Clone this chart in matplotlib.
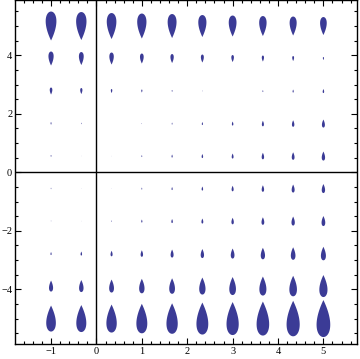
import numpy as np
import matplotlib
matplotlib.use("Agg")
import matplotlib.pyplot as plt
from matplotlib.path import Path
from matplotlib.ticker import MultipleLocator

# grid of sample points
x_vals = [-1, -1/3, 1/3, 1, 5/3, 7/3, 3, 11/3, 13/3, 5]
y_vals = [5, 35/9, 25/9, 15/9, 5/9, -5/9, -15/9, -25/9, -35/9, -5]

# signed vertical component (positive = pointing up), rows top to bottom
row_y5 = [-29, -28, -26, -25, -24, -22, -21, -20, -19, -18]
row_y4 = [-14, -13, -12, -10, -9, -8, -7, -6, -5, -3]
row_y3 = [-7, -6, -4, -3, -2, -1, 0, 2, 3, 4]
row_y2 = [-2.5, -1.5, 0, 1, 2, 3, 4, 5.5, 6.5, 8]
row_y1 = [-2, -0.5, 0.5, 2, 3, 4, 5, 6.5, 7.5, 9]
row_m1 = [-1.5, -0.5, 0.5, 2, 3, 4, 5.5, 6.5, 8, 9]
row_m2 = [-1, 0.5, 1.5, 3, 4, 5, 6.5, 7.5, 9, 10]
row_m3 = [3, 4, 5.5, 6.5, 8, 9, 10, 11.5, 12.5, 13.5]
row_m4 = [11, 12, 13, 14.5, 15.5, 17, 18, 19, 20.5, 22]
row_m5 = [26, 27, 28, 29.5, 30.5, 32, 33, 34, 35.5, 37]
rows = [row_y5, row_y4, row_y3, row_y2, row_y1, row_m1, row_m2, row_m3, row_m4, row_m5]

x_ticks = [-1, 0, 1, 2, 3, 4, 5]
y_ticks = [-4, -2, 0, 2, 4]


def drop_path(up=True, w=0.37):
    t = np.linspace(0, 2 * np.pi, 80)
    xs = np.sin(t) * np.sin(t / 2)
    ys = np.cos(t)
    xs = xs / xs.max() * (w / 2)
    ys = ys * 0.5
    if not up:
        ys = -ys
    verts = np.column_stack([xs, ys])
    codes = [Path.MOVETO] + [Path.LINETO] * (len(verts) - 2) + [Path.CLOSEPOLY]
    return Path(verts, codes)


fig = plt.figure(figsize=(3.6, 3.59), dpi=100)
ax = fig.add_axes([15 / 360, 15 / 359, 342 / 360, 344 / 359])

up_m = drop_path(True)
dn_m = drop_path(False)
color = "#3b3b96"
px2pt = 72 / 100
for yv, row in zip(y_vals, rows):
    for xv, v in zip(x_vals, row):
        if abs(v) < 0.3:
            continue
        L = abs(v) * px2pt
        ax.scatter([xv], [yv], s=L ** 2, marker=up_m if v > 0 else dn_m,
                   color=color, edgecolors="none", zorder=3)

ax.axhline(0, color="black", lw=1.0, zorder=2)
ax.axvline(0, color="black", lw=1.0, zorder=2)

ax.set_xlim(-1.794, 5.74)
ax.set_ylim(-5.87, 5.89)
ax.set_xticks(x_ticks)
ax.set_yticks(y_ticks)
ax.set_xticklabels([("\u2212%d" % -t) if t < 0 else str(t) for t in x_ticks])
ax.set_yticklabels([("\u2212%d" % -t) if t < 0 else str(t) for t in y_ticks])
ax.xaxis.set_minor_locator(MultipleLocator(0.2))
ax.yaxis.set_minor_locator(MultipleLocator(0.5))
ax.tick_params(which="both", direction="in", top=True, right=True, width=0.8,
               labelsize=7.5, pad=2)
ax.tick_params(which="major", length=4)
ax.tick_params(which="minor", length=2.2)
for lab in ax.get_xticklabels() + ax.get_yticklabels():
    lab.set_fontfamily("Liberation Serif")
for s in ax.spines.values():
    s.set_linewidth(1.0)

fig.savefig("out.png", dpi=100)
